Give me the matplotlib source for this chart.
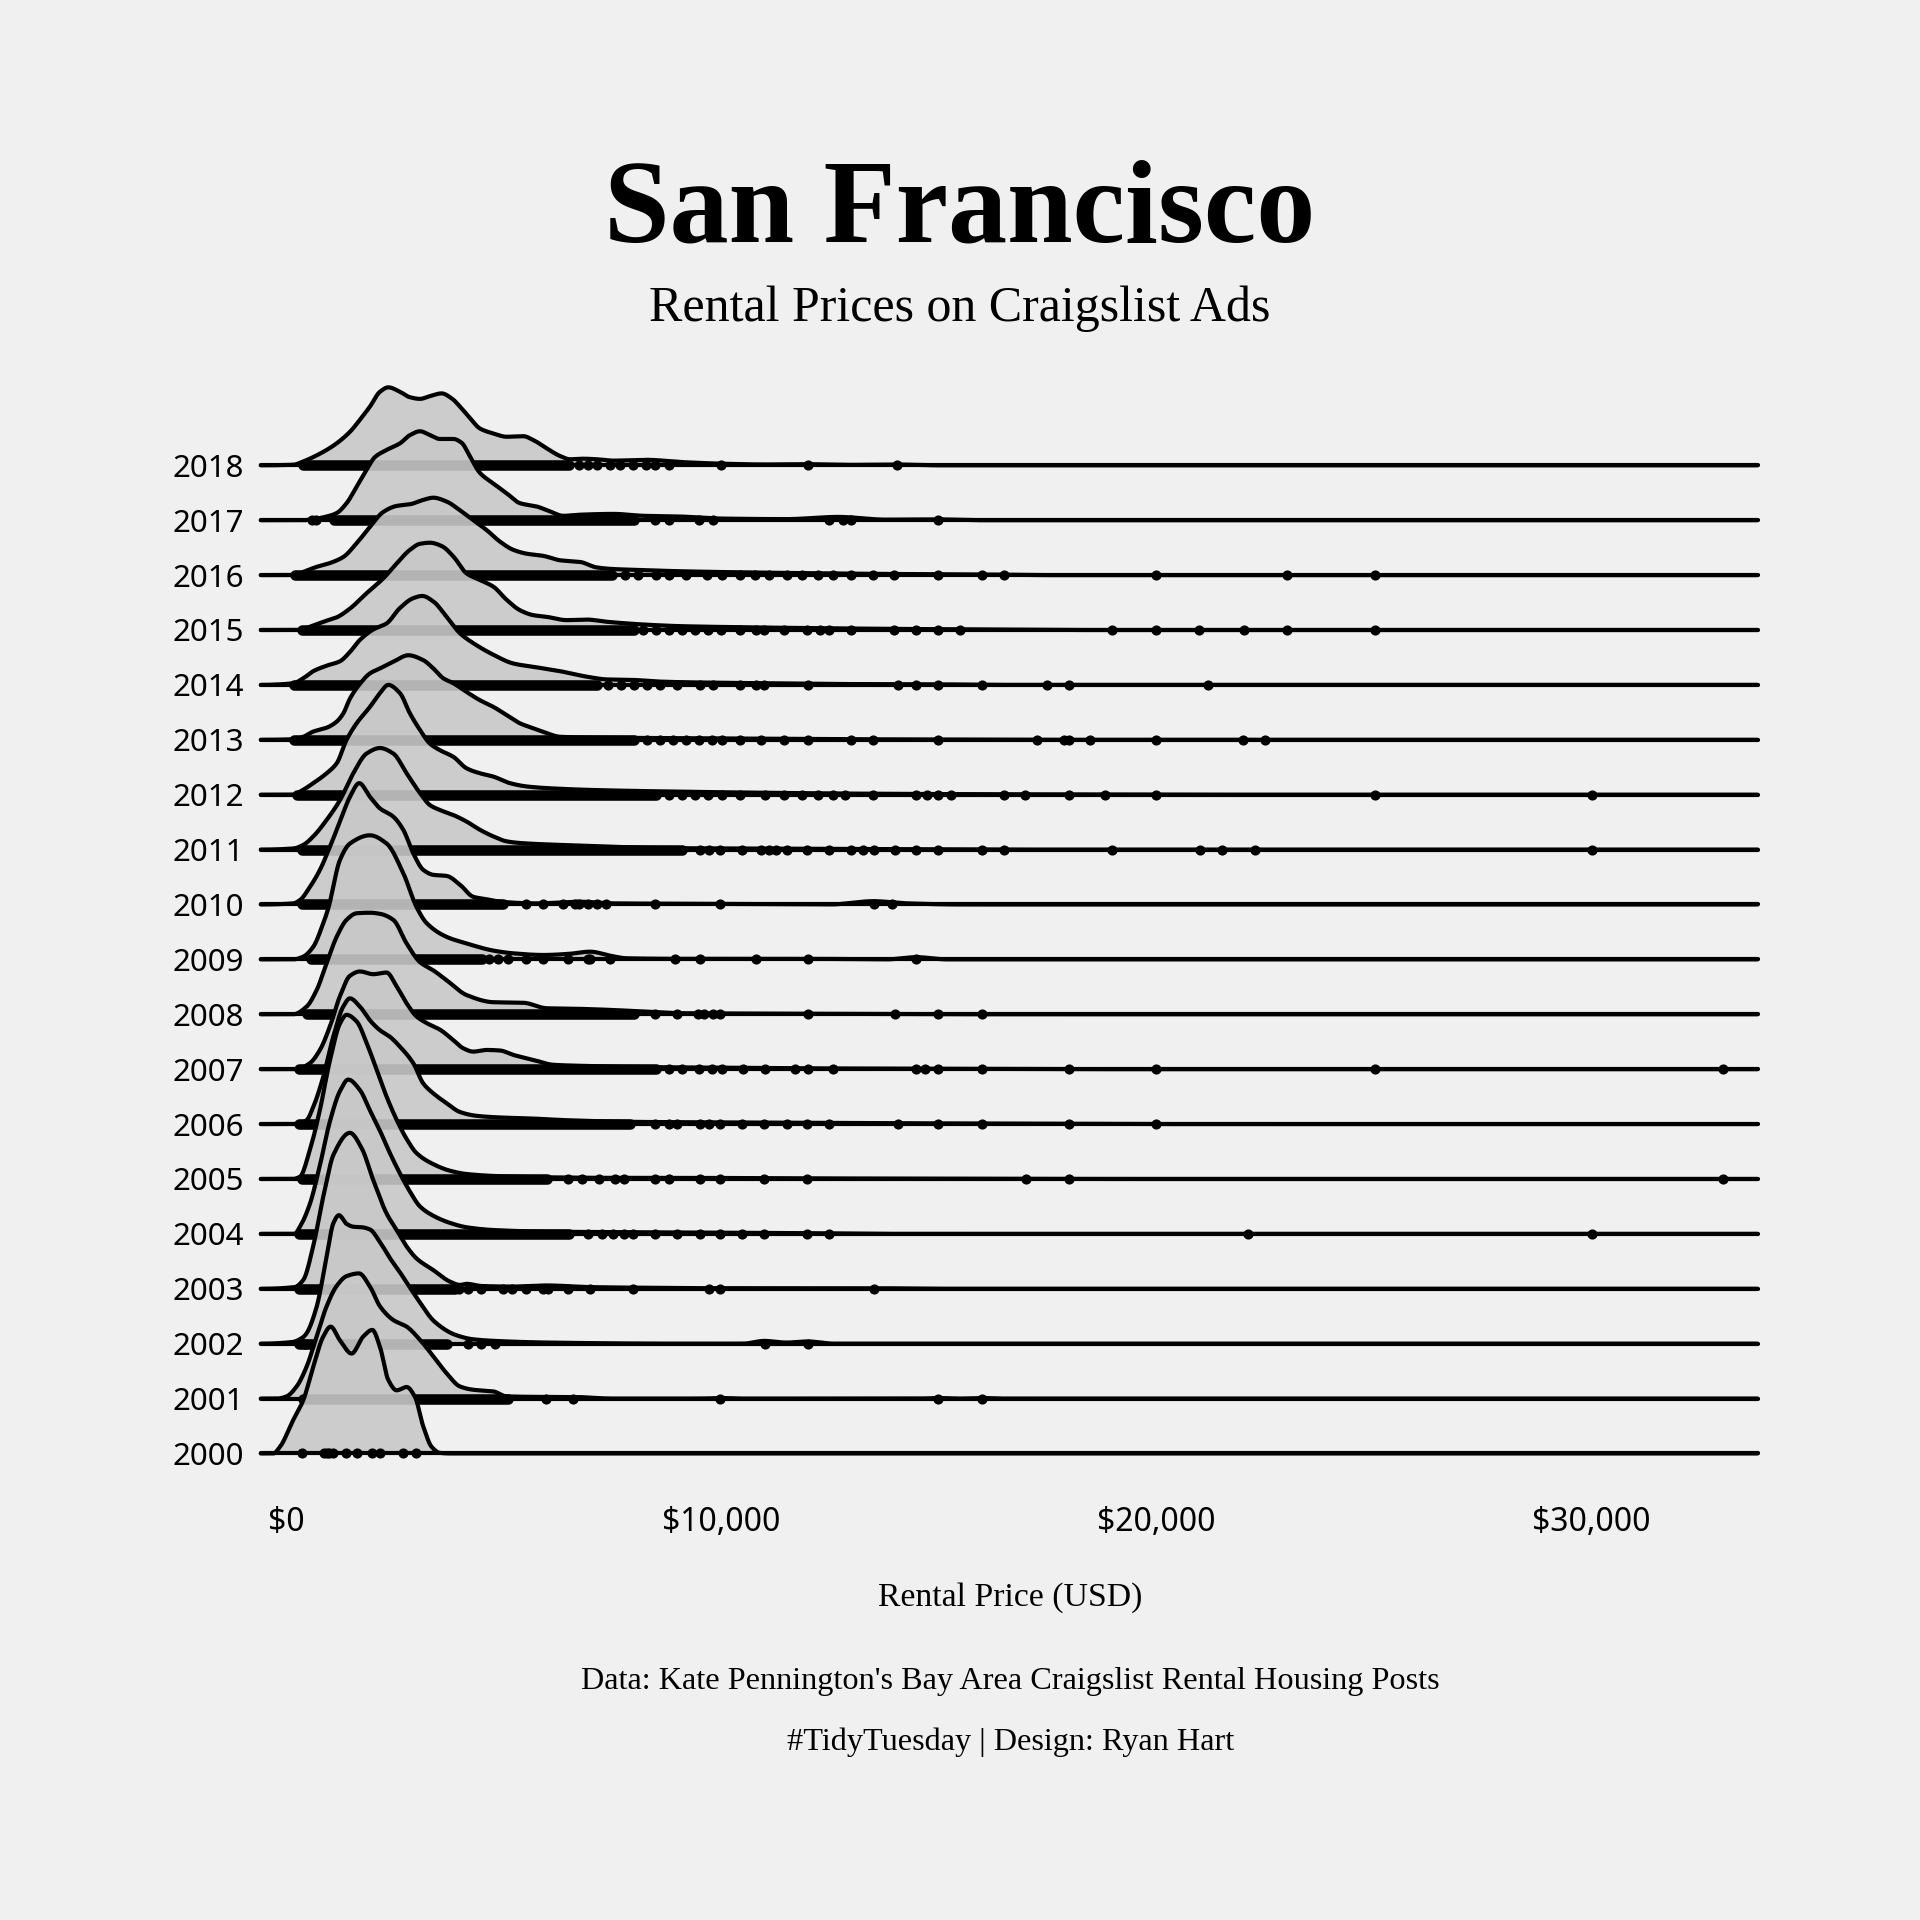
import numpy as np
import matplotlib
matplotlib.use('Agg')
import matplotlib.pyplot as plt

# ridge outlines: (price in USD, density height)
# height unit = one row gap between neighbouring years
ridge_knots = {
    2018: [(-577, 0), (170, .01), (400, .07), (630, .15), (938, .28), (1168, .40), (1474, .61),
           (1704, .83), (1934, 1.07), (2164, 1.34), (2355, 1.42), (2623, 1.34), (2853, 1.24),
           (3083, 1.21), (3313, 1.26), (3581, 1.31), (3811, 1.22), (4003, 1.07), (4233, .86),
           (4463, .67), (4769, .58), (5076, .52), (5459, .53), (5689, .46), (5995, .31), (6302, .17),
           (6532, .11), (6838, .12), (7150, .11), (7530, .085), (8300, .10), (9060, .06), (10000, .03),
           (11000, .015), (12000, .02), (13000, .008), (14000, .015), (15000, 0), (33830, 0)],
    2017: [(-577, 0), (400, 0), (554, .01), (938, .067), (1168, .13), (1397, .31), (1627, .61),
           (1857, .92), (2049, 1.15), (2317, 1.28), (2623, 1.40), (2853, 1.55), (3083, 1.62),
           (3313, 1.55), (3543, 1.48), (3850, 1.48), (4041, 1.41), (4233, 1.16), (4463, .86),
           (4769, .67), (5076, .49), (5382, .31), (5765, .25), (6072, .16), (6378, .08), (6761, .10),
           (7528, .115), (8217, .08), (9060, .067), (10000, .03), (11500, .02), (12700, .06),
           (13800, .01), (15000, .015), (16000, 0), (33830, 0)],
    2016: [(-577, 0), (171, 0), (401, .06), (708, .15), (1014, .22), (1321, .33), (1627, .58),
           (1934, .88), (2240, 1.15), (2547, 1.26), (2853, 1.29), (3160, 1.37), (3390, 1.41),
           (3696, 1.34), (4003, 1.18), (4309, 1.0), (4616, .82), (4922, .61), (5229, .46), (5535, .39),
           (5919, .35), (6302, .27), (6761, .24), (7145, .14), (7528, .11), (8294, .09), (9060, .07),
           (10500, .05), (12000, .035), (14000, .02), (16000, .012), (17500, 0), (33830, 0)],
    2015: [(-577, 0), (325, 0), (554, .06), (938, .17), (1168, .23), (1474, .39), (1857, .67),
           (2240, .94), (2547, 1.21), (2853, 1.46), (3083, 1.57), (3313, 1.59), (3581, 1.53),
           (3850, 1.34), (4156, 1.03), (4463, .91), (4769, .79), (5076, .55), (5382, .36), (5689, .27),
           (5995, .24), (6455, .18), (6915, .19), (7375, .15), (7834, .12), (8447, .09), (9060, .07),
           (10500, .05), (12000, .035), (14000, .02), (16000, .01), (18000, 0), (33830, 0)],
    2014: [(-577, 0), (171, .03), (401, .12), (631, .25), (938, .35), (1244, .43), (1474, .60),
           (1704, .82), (2011, 1.01), (2317, 1.12), (2623, 1.40), (2930, 1.58), (3137, 1.62),
           (3390, 1.52), (3696, 1.24), (4003, .94), (4309, .76), (4769, .55), (5229, .39), (5765, .32),
           (6302, .25), (6915, .15), (7375, .10), (7988, .09), (8600, .06), (9060, .05), (11000, .03),
           (13000, .015), (15000, .01), (16500, 0), (33830, 0)],
    2013: [(-577, 0), (171, .01), (401, .055), (631, .15), (938, .22), (1168, .33), (1321, .48),
           (1474, .75), (1704, 1.02), (1934, 1.21), (2164, 1.30), (2470, 1.42), (2815, 1.54),
           (3160, 1.45), (3390, 1.30), (3620, 1.12), (3850, 1.03), (4156, .87), (4463, .72),
           (4769, .60), (5076, .45), (5382, .30), (5689, .21), (5995, .12), (6302, .055), (7068, .04),
           (9060, .03), (11000, .02), (13000, .01), (15000, .005), (17000, 0), (33830, 0)],
    2012: [(-577, 0), (171, 0), (325, .055), (631, .21), (938, .39), (1168, .57), (1397, 1.0),
           (1627, 1.30), (1934, 1.60), (2164, 1.85), (2355, 2.0), (2623, 1.85), (2853, 1.48),
           (3083, 1.18), (3313, .93), (3543, .81), (3850, .69), (4156, .48), (4463, .39), (4769, .33),
           (5152, .21), (5535, .15), (5995, .12), (7068, .085), (9060, .055), (11000, .035),
           (13000, .02), (15500, .01), (18000, .005), (20500, 0), (33830, 0)],
    2011: [(-577, 0), (171, .02), (401, .085), (631, .24), (938, .54), (1244, .90), (1551, 1.39),
           (1857, 1.75), (2164, 1.85), (2470, 1.75), (2777, 1.39), (3083, 1.03), (3313, .81),
           (3543, .72), (3850, .63), (4156, .51), (4463, .36), (4769, .24), (5076, .15), (5382, .12),
           (6302, .085), (9060, .025), (12000, .015), (15000, .005), (17000, 0), (33830, 0)],
    2010: [(-577, 0), (171, .02), (325, .08), (554, .32), (784, .63), (1014, 1.05), (1244, 1.51),
           (1474, 1.96), (1688, 2.21), (1934, 1.96), (2164, 1.75), (2470, 1.60), (2700, 1.36),
           (2930, .93), (3160, .63), (3390, .54), (3696, .52), (4003, .36), (4309, .14), (4616, .095),
           (4922, .05), (5765, .02), (6761, .05), (7528, .02), (8500, .015), (10000, .01), (12500, 0),
           (13500, .06), (14300, .02), (15500, 0), (33830, 0)],
    2009: [(-577, 0), (171, 0), (401, .05), (631, .23), (861, .66), (976, .93), (1244, 1.81),
           (1474, 2.11), (1934, 2.26), (2317, 2.11), (2700, 1.57), (3007, .95), (3237, .66),
           (3696, .41), (4156, .29), (4769, .16), (5229, .11), (5919, .08), (6500, .10), (6991, .14),
           (7500, .06), (7834, .02), (9060, .01), (12000, .01), (13800, 0), (14500, .04), (15200, 0),
           (33830, 0)],
    2008: [(-577, 0), (171, 0), (478, .14), (708, .44), (938, .93), (1168, 1.41), (1397, 1.72),
           (1627, 1.84), (1934, 1.85), (2164, 1.83), (2470, 1.72), (2777, 1.29), (3083, .95),
           (3390, .80), (3696, .62), (4156, .35), (4769, .22), (5459, .21), (5995, .11), (6685, .10),
           (7451, .08), (8217, .05), (9060, .02), (12000, .01), (16500, 0), (33830, 0)],
    2007: [(-577, 0), (250, 0), (554, .11), (784, .35), (1014, .78), (1244, 1.33), (1473, 1.70),
           (1703, 1.78), (2010, 1.73), (2316, 1.76), (2546, 1.51), (2776, 1.20), (3006, .96),
           (3236, .84), (3542, .72), (3849, .53), (4079, .38), (4309, .32), (4615, .35), (4922, .34),
           (5228, .26), (5688, .17), (6148, .08), (6837, .06), (8000, .04), (9500, .03), (12000, .015),
           (15000, .008), (19000, 0), (33830, 0)],
    2006: [(-577, 0), (250, 0), (477, .07), (630, .31), (860, .86), (1090, 1.59), (1320, 2.14),
           (1473, 2.29), (1703, 2.14), (1933, 1.89), (2163, 1.71), (2393, 1.59), (2623, 1.41),
           (2929, 1.11), (3159, .74), (3389, .56), (3696, .38), (4002, .22), (4385, .15), (4922, .12),
           (5688, .10), (6454, .07), (8000, .04), (10000, .03), (12500, .02), (16000, .01), (21000, 0),
           (33830, 0)],
    2005: [(-577, 0), (150, 0), (324, .04), (554, .53), (784, 1.26), (1014, 2.16), (1244, 2.83),
           (1397, 2.99), (1627, 2.87), (1857, 2.48), (2086, 1.99), (2316, 1.50), (2546, 1.08),
           (2776, .73), (3006, .47), (3389, .27), (3772, .15), (4155, .09), (4922, .05), (6000, .03),
           (7500, .02), (9000, .02), (12000, .01), (17000, .005), (19000, 0), (33830, 0)],
    2004: [(-577, 0), (200, 0), (325, .13), (555, .55), (784, 1.25), (1014, 2.05), (1244, 2.6),
           (1435, 2.81), (1703, 2.62), (1933, 2.25), (2163, 1.88), (2393, 1.47), (2623, 1.10),
           (2853, .77), (3083, .50), (3389, .33), (3772, .20), (4155, .12), (4769, .07), (6000, .04),
           (8000, .03), (10000, .02), (12500, .01), (14000, 0), (33830, 0)],
    2003: [(-577, 0), (200, .03), (401, .16), (631, .78), (861, 1.68), (1100, 2.45), (1473, 2.84),
           (1750, 2.55), (2000, 2.0), (2317, 1.37), (2547, 1.07), (2777, .77), (3007, .55),
           (3390, .34), (3773, .13), (4003, .07), (4156, .09), (4500, .05), (5200, .04), (6000, .06),
           (7000, .03), (8000, .02), (10000, .01), (13500, .01), (15000, 0), (33830, 0)],
    2002: [(-577, 0), (150, .03), (400, .12), (478, .19), (708, .67), (938, 1.58), (1091, 2.19),
           (1221, 2.34), (1400, 2.18), (1551, 2.13), (1750, 2.12), (1934, 2.08), (2164, 1.85),
           (2400, 1.55), (2623, 1.3), (2997, .85), (3420, .4), (3898, .16), (4300, .08), (4800, .05),
           (6000, .02), (9000, 0), (10500, 0), (11000, .05), (11500, .02), (12000, .04), (12600, 0),
           (33830, 0)],
    2001: [(-577, 0), (-200, 0), (18, .04), (248, .22), (478, .58), (708, 1.13), (938, 1.68),
           (1168, 2.05), (1397, 2.23), (1681, 2.28), (1934, 2.04), (2164, 1.68), (2470, 1.43),
           (2777, 1.31), (3083, 1.07), (3390, .77), (3696, .46), (4003, .22), (4309, .16), (4769, .13),
           (5076, .04), (5970, .03), (6570, .03), (7500, 0), (9500, 0), (10000, .01), (10500, 0),
           (14500, 0), (15000, .01), (15500, 0), (16000, .01), (16500, 0), (33830, 0)],
    2000: [(-577, 0), (-288, 0), (-135, .12), (171, .61), (401, .97), (631, 1.58), (861, 2.13),
           (1030, 2.31), (1244, 2.06), (1512, 1.82), (1780, 2.13), (1988, 2.25), (2164, 1.94),
           (2355, 1.34), (2547, 1.15), (2777, 1.21), (2968, 1.03), (3160, .49), (3352, .12),
           (3543, .01), (3773, 0), (33830, 0)],
}

# price span where the ad points merge into a solid bar (USD)
dense_lo = {2018: 400, 2017: 1100, 2016: 200, 2015: 380, 2014: 180, 2013: 180, 2012: 250,
            2011: 380, 2010: 380, 2009: 580, 2008: 480, 2007: 300, 2006: 300, 2005: 380,
            2004: 300, 2003: 300, 2002: 300, 2001: 400}
dense_hi = {2018: 6500, 2017: 8000, 2016: 7500, 2015: 8000, 2014: 7150, 2013: 8000, 2012: 8500,
            2011: 9100, 2010: 5000, 2009: 4500, 2008: 8000, 2007: 8500, 2006: 7900, 2005: 6000,
            2004: 6500, 2003: 3900, 2002: 3700, 2001: 5100}

# single ads that stand apart (thousand USD)
single_ads = {
    2018: [6.74, 6.95, 7.15, 7.46, 7.67, 7.98, 8.28, 8.48, 8.8, 10.0, 12.0, 14.05],
    2017: [0.6, 0.69, 8.49, 8.8, 9.5, 9.82, 12.48, 12.8, 13.0, 15.0],
    2016: [7.8, 8.1, 8.5, 8.8, 9.2, 9.67, 10.03, 10.45, 10.79, 11.1, 11.53, 11.86, 12.23, 12.57,
           12.99, 13.5, 13.97, 15.0, 16.0, 16.51, 20.0, 23.01, 25.04],
    2015: [8.2, 8.5, 8.8, 9.1, 9.4, 9.7, 10.0, 10.44, 10.8, 11.0, 11.46, 11.98, 12.28, 12.48, 12.99,
           13.97, 14.48, 15.0, 15.49, 18.98, 20.0, 20.98, 22.03, 23.01, 25.04],
    2014: [7.4, 7.7, 8.0, 8.3, 8.6, 9.0, 9.52, 9.82, 10.44, 10.8, 11.0, 12.0, 14.06, 14.48, 15.0,
           16.0, 17.49, 18.0, 21.2],
    2013: [8.3, 8.6, 8.9, 9.2, 9.5, 9.8, 10.03, 10.45, 10.93, 11.44, 12.0, 12.99, 13.5, 15.0,
           17.26, 17.89, 18.0, 18.48, 20.0, 22.0, 22.5],
    2012: [8.8, 9.1, 9.4, 9.7, 10.03, 10.45, 11.02, 11.44, 11.86, 12.23, 12.57, 12.85, 13.5, 14.48,
           14.73, 15.0, 15.3, 16.51, 16.99, 18.0, 18.82, 20.0, 25.04, 30.02],
    2011: [9.52, 9.72, 9.98, 10.49, 10.93, 11.1, 11.26, 11.51, 11.97, 12.48, 13.0, 13.26, 13.52,
           14.0, 14.48, 15.0, 16.0, 16.51, 18.98, 21.01, 21.52, 22.28, 30.02],
    2010: [5.51, 5.92, 6.37, 6.65, 6.74, 6.95, 7.15, 7.36, 8.49, 9.98, 13.52, 13.93],
    2009: [4.68, 4.88, 5.1, 5.51, 5.92, 6.49, 6.95, 7.0, 7.46, 8.94, 9.52, 10.8, 12.0, 14.48],
    2008: [8.49, 9.0, 9.47, 9.61, 9.82, 9.98, 12.0, 14.0, 15.0, 16.0],
    2007: [8.8, 9.1, 9.5, 9.8, 10.03, 10.5, 11.02, 11.7, 12.0, 12.57, 14.48, 14.7, 15.0, 16.0,
           18.0, 20.0, 25.04, 33.03],
    2006: [8.49, 8.8, 9.0, 9.52, 9.73, 9.98, 10.49, 11.0, 11.51, 11.97, 12.48, 14.06, 15.0, 16.0,
           18.0, 20.0],
    2005: [6.49, 6.8, 7.2, 7.57, 7.77, 8.49, 8.8, 9.52, 9.98, 11.0, 11.97, 17.01, 18.0, 33.03],
    2004: [6.95, 7.26, 7.51, 7.77, 7.98, 8.49, 9.0, 9.52, 9.98, 10.49, 11.0, 11.97, 12.48, 22.11,
           30.02],
    2003: [3.98, 4.18, 4.49, 5.0, 5.2, 5.51, 5.92, 6.03, 6.49, 7.0, 7.98, 9.72, 9.98, 13.52],
    2002: [0.43, 4.18, 4.49, 4.8, 11.02, 12.0],
    2001: [5.97, 6.59, 9.98, 15.0, 16.0],
    2000: [0.38, 0.88, 0.94, 1.0, 1.08, 1.38, 1.63, 1.99, 2.17, 2.69, 3.0],
}

years = list(range(2018, 1999, -1))
price_ticks = [0, 10000, 20000, 30000]
price_labels = [r'\$0', r'\$10,000', r'\$20,000', r'\$30,000']
line_start, line_end = -577, 33830

BG = '#F0F0F0'
SERIF = 'Liberation Serif'
SANS = 'Noto Sans'


def pchip(xk, yk, xs):
    """ shape preserving cubic through the knots (no overshoot) """
    xk = np.asarray(xk, float)
    yk = np.asarray(yk, float)
    h = np.diff(xk)
    d = np.diff(yk) / h
    m = np.zeros_like(yk)
    for i in range(1, len(xk) - 1):
        if d[i - 1] * d[i] > 0:
            w1 = 2 * h[i] + h[i - 1]
            w2 = h[i] + 2 * h[i - 1]
            m[i] = (w1 + w2) / (w1 / d[i - 1] + w2 / d[i])
    idx = np.clip(np.searchsorted(xk, xs) - 1, 0, len(xk) - 2)
    t = (xs - xk[idx]) / h[idx]
    h00 = 2 * t**3 - 3 * t**2 + 1
    h10 = t**3 - 2 * t**2 + t
    h01 = -2 * t**3 + 3 * t**2
    h11 = t**3 - t**2
    return (h00 * yk[idx] + h10 * h[idx] * m[idx]
            + h01 * yk[idx + 1] + h11 * h[idx] * m[idx + 1])


fig = plt.figure(figsize=(19.2, 19.2), dpi=100, facecolor=BG)
ax = fig.add_axes([0.1330, 0.2287, 0.7863, 0.5747])
ax.set_facecolor(BG)

xs = np.linspace(line_start, line_end, 8000)
for k, yr in enumerate(years):
    base = yr - 2000
    px, hy = zip(*ridge_knots[yr])
    dens = np.clip(pchip(px, hy, xs), 0, None)
    z = 10 + 4 * k
    ax.fill_between(xs, base, base + dens, color='#c8c8c8', alpha=0.9, lw=0, zorder=z)
    ax.plot(xs, base + dens, color='black', lw=3, solid_capstyle='round', zorder=z + 1)
    ax.plot([line_start, line_end], [base, base], color='black', lw=3,
            solid_capstyle='round', zorder=z + 1)
    if yr in dense_lo:
        ax.plot([dense_lo[yr], dense_hi[yr]], [base, base], color='black', lw=7.6,
                solid_capstyle='round', zorder=z + 2)
    pts = np.array(single_ads[yr]) * 1000
    ax.plot(pts, np.full(len(pts), base), 'o', color='black', ms=7.3, mew=0, zorder=z + 2)

ax.set_xlim(-700, 34000)
ax.set_ylim(-0.5, 19.6)
for s in ax.spines.values():
    s.set_visible(False)
ax.set_xticks(price_ticks)
ax.set_xticklabels(price_labels, fontsize=23, family=SANS)
ax.set_yticks([yr - 2000 for yr in years])
ax.set_yticklabels([str(yr) for yr in years], fontsize=22.5, family=SANS)
ax.tick_params(axis='x', length=0, pad=18)
ax.tick_params(axis='y', length=0, pad=8)

# titles and notes
fig.text(0.5, 0.8744, 'San Francisco', ha='center', va='baseline', fontsize=85,
         fontweight='bold', family=SERIF)
fig.text(0.5, 0.8329, 'Rental Prices on Craigslist Ads', ha='center', va='baseline',
         fontsize=36, family=SERIF)
xc = 0.1330 + 0.7863 / 2
fig.text(xc, 0.1639, 'Rental Price (USD)', ha='center', va='baseline', fontsize=24.3, family=SERIF)
fig.text(xc, 0.1205, "Data: Kate Pennington's Bay Area Craigslist Rental Housing Posts",
         ha='center', va='baseline', fontsize=23.2, family=SERIF)
fig.text(xc, 0.0887, '#TidyTuesday | Design: Ryan Hart', ha='center', va='baseline',
         fontsize=23.2, family=SERIF)

fig.savefig('out.png', dpi=100, facecolor=BG)
